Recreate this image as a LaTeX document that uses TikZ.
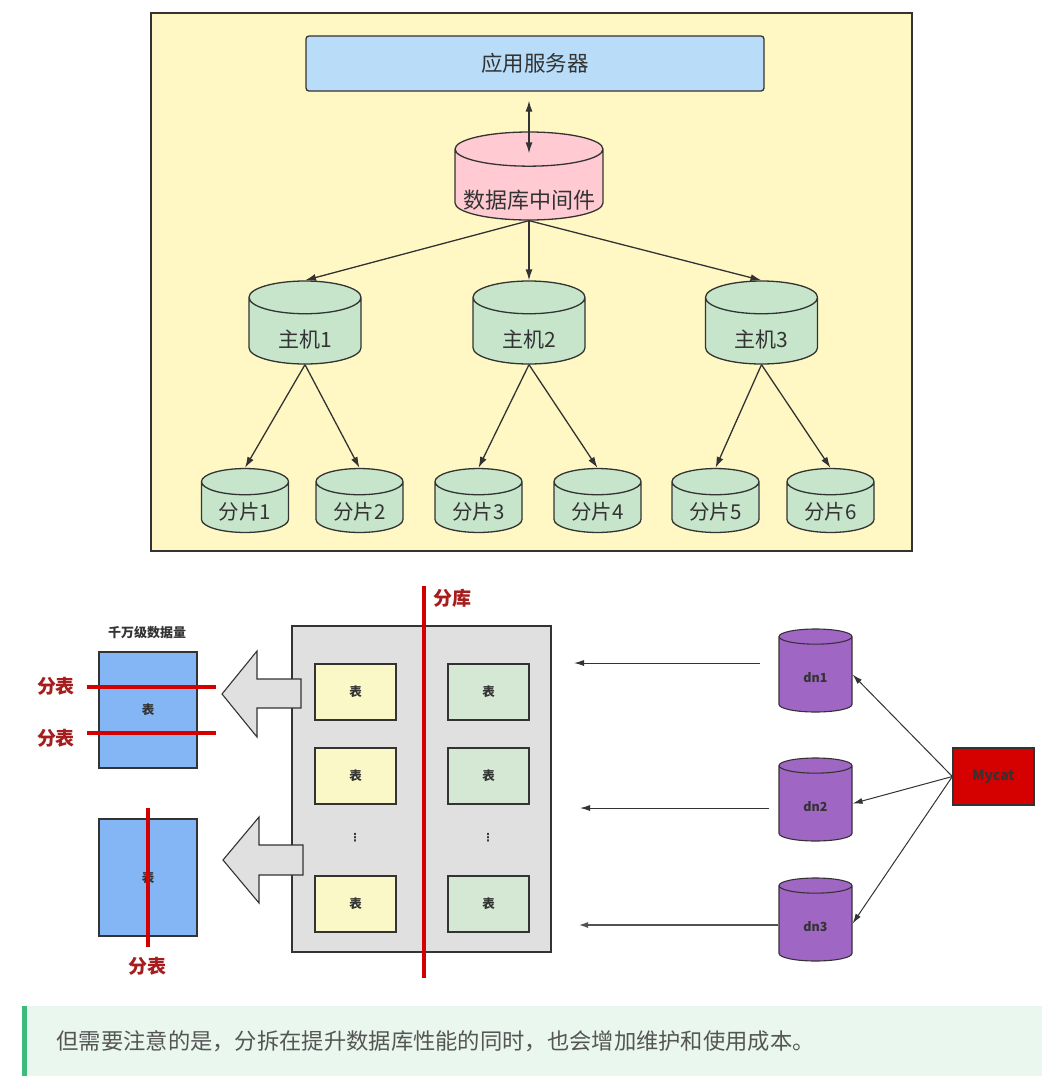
\documentclass[tikz,border=0pt]{standalone}
\usepackage{fontspec}
\setmainfont{Noto Sans CJK SC}
\newfontfamily\symfont{DejaVu Sans}
\usepackage{tikz}
\usetikzlibrary{positioning,arrows.meta,shapes.geometric,calc}
\definecolor{panelYellow}{HTML}{FFF8C4}
\definecolor{serverBlue}{HTML}{B9DDF8}
\definecolor{midPink}{HTML}{FFCAD2}
\definecolor{hostGreen}{HTML}{C6E5CB}
\definecolor{lineGray}{HTML}{333333}
\definecolor{boxGray}{HTML}{E0E0E0}
\definecolor{tabYellow}{HTML}{FBF8C8}
\definecolor{tabGreen}{HTML}{D5E8D4}
\definecolor{tabBlue}{HTML}{84B5F4}
\definecolor{cutRed}{HTML}{D40000}
\definecolor{labelRed}{HTML}{A51D1D}
\definecolor{dnPurple}{HTML}{A066C4}
\definecolor{mycatRed}{HTML}{D50000}
\definecolor{noteGreen}{HTML}{EAF7EF}
\definecolor{barGreen}{HTML}{3DBB7B}
\definecolor{noteText}{HTML}{555555}

\begin{document}
\begin{tikzpicture}[x=1pt,y=-1pt,
  every node/.style={text=lineGray},
  db/.style={cylinder,shape border rotate=90,anchor=shape center,draw=lineGray,line width=1.3pt,inner sep=0pt},
  db text/.style={text height=#1,text depth=-#1},
  host/.style={db,aspect=0.61,fill=hostGreen,minimum width=112pt,minimum height=83pt,font=\fontsize{21}{24}\selectfont,db text=32.5pt},
  shard/.style={db,aspect=0.5,fill=hostGreen,minimum width=87pt,minimum height=63pt,font=\fontsize{20.5}{24}\selectfont,db text=24pt},
  dn/.style={db,aspect=0.63,fill=dnPurple,line width=1.1pt,minimum width=73pt,minimum height=83pt,font=\bfseries\fontsize{12.5}{15}\selectfont,db text=16pt},
  link/.style={draw=lineGray,line width=1.3pt,-{Latex[length=11pt,width=7pt]}},
  thin link/.style={draw=lineGray,line width=1pt,-{Latex[length=10pt,width=6pt]}},
  tab/.style={draw=lineGray,line width=1.2pt,minimum width=81pt,minimum height=56pt,font=\bfseries\fontsize{12.5}{14}\selectfont},
  bigtab/.style={draw=lineGray,line width=1.2pt,fill=tabBlue,minimum width=98pt,minimum height=116pt,font=\bfseries\fontsize{12.5}{14}\selectfont},
  more/.style={font=\symfont\bfseries\fontsize{11}{13}\selectfont},
  blockarrow/.style={draw=lineGray,line width=1.1pt,fill=boxGray},
  cut/.style={draw=cutRed,line width=3.5pt},
  cutlabel/.style={text=labelRed,font=\bfseries\fontsize{19}{22}\selectfont}
]
\fill[white] (0,0) rectangle (1057,1088);
\useasboundingbox (0,0) rectangle (1057,1088);

% upper panel
\draw[draw=lineGray,fill=panelYellow,line width=1.3pt] (151,13) rectangle (912,551);
\node[draw=lineGray,line width=1.3pt,fill=serverBlue,rounded corners=3pt,minimum width=458pt,minimum height=55pt,
      font=\fontsize{21.5}{24}\selectfont] (srv) at (535,63.5) {应用服务器};
\node[db,aspect=0.67,fill=midPink,minimum width=148pt,minimum height=88pt,font=\fontsize{22}{26}\selectfont,db text=35pt] (mid) at (529,176) {\makebox[51pt]{\lower6pt\hbox{数据库中间件}}};

\node[host] (h1) at (305,322.5) {主机1};
\node[host] (h2) at (529,322.5) {主机2};
\node[host] (h3) at (761.5,322.5) {主机3};

\node[shard] (s1) at (245,500.5) {分片1};
\node[shard] (s2) at (359.5,500.5) {分片2};
\node[shard] (s3) at (478.5,500.5) {分片3};
\node[shard] (s4) at (597.5,500.5) {分片4};
\node[shard] (s5) at (715.5,500.5) {分片5};
\node[shard] (s6) at (830.5,500.5) {分片6};

\draw[link,{Latex[length=11pt,width=7pt]}-{Latex[length=11pt,width=7pt]}] ($(srv.south -| mid.top)+(0,9)$) -- ($(mid.top)+(0,22)$);
\draw[link] (mid.bottom) -- (h1.top);
\draw[link] (mid.bottom) -- (h2.top);
\draw[link] (mid.bottom) -- (h3.top);
\draw[link] (h1.bottom) -- (s1.top);
\draw[link] (h1.bottom) -- (s2.top);
\draw[link] (h2.bottom) -- (s3.top);
\draw[link] (h2.bottom) -- (s4.top);
\draw[link] (h3.bottom) -- (s5.top);
\draw[link] (h3.bottom) -- (s6.top);

% lower part: splitting tables and databases
\node[draw=lineGray,line width=1.2pt,fill=boxGray,minimum width=259pt,minimum height=326pt] (dbbox) at (421.5,789) {};
\node[tab,fill=tabYellow] (ya) at (355.5,692) {表};
\node[tab,fill=tabYellow] (yb) at (355.5,776) {表};
\node[more] (yc) at (355,838) {⋮};
\node[tab,fill=tabYellow] (yd) at (355.5,904) {表};
\node[tab,fill=tabGreen] (ga) at (488.5,692) {表};
\node[tab,fill=tabGreen] (gb) at (488.5,776) {表};
\node[more] (gc) at (488,838) {⋮};
\node[tab,fill=tabGreen] (gd) at (488.5,904) {表};
\draw[cut] (424,586) -- (424,978);
\node[cutlabel] (fenku) at (452,598) {分库};

\draw[blockarrow] (301,679) -- (257,679) -- (257,651) -- (222,694) -- (257,737) -- (257,708) -- (301,708) -- cycle;
\draw[blockarrow] (303,845) -- (259,845) -- (259,817) -- (223,860) -- (259,903) -- (259,875) -- (303,875) -- cycle;

\node[font=\bfseries\fontsize{13}{15}\selectfont] (big) at (147,633) {千万级数据量};
\node[bigtab] (t1) at (148,710) {表};
\node[bigtab,minimum height=117pt] (t2) at (148,877.5) {表};
\draw[cut] (87,687) -- (216,687);
\draw[cut] (87,733) -- (216,733);
\draw[cut] (148,808) -- (148,947);
\node[cutlabel] (fb1) at (56,686) {分表};
\node[cutlabel] (fb2) at (56,738) {分表};
\node[cutlabel] (fb3) at (147,966) {分表};

\node[dn] (dn1) at (815.5,670.5) {dn1};
\node[dn] (dn2) at (815.5,799.5) {dn2};
\node[dn] (dn3) at (815.5,919.5) {dn3};
\node[draw=lineGray,line width=1.3pt,fill=mycatRed,minimum width=81pt,minimum height=57pt,
      font=\bfseries\fontsize{14}{16}\selectfont] (mycat) at (993.5,776.5) {Mycat};
\draw[thin link] (mycat.west) -- (dn1.east);
\draw[thin link] (mycat.west) -- (dn2.east);
\draw[thin link] (mycat.west) -- (dn3.east);

\coordinate (o1) at (574,663);
\coordinate (o2) at (580,808);
\coordinate (o3) at (578,925);
\draw[thin link,shorten <=18pt] (dn1.west |- o1) -- (o1);
\draw[thin link,shorten <=9pt] (dn2.west |- o2) -- (o2);
\draw[thin link,draw=lineGray!85,line width=2pt] (dn3.west |- o3) -- (o3);

% note
\fill[noteGreen] (22,1006) rectangle (1042,1076);
\fill[barGreen] (22,1006) rectangle (27,1076);
\node[anchor=west,text=noteText,font=\fontsize{22.3}{26}\selectfont] (note) at (53,1041)
  {但需要注意的是，分拆在提升数据库性能的同时，也会增加维护和使用成本。};
\end{tikzpicture}
\end{document}
